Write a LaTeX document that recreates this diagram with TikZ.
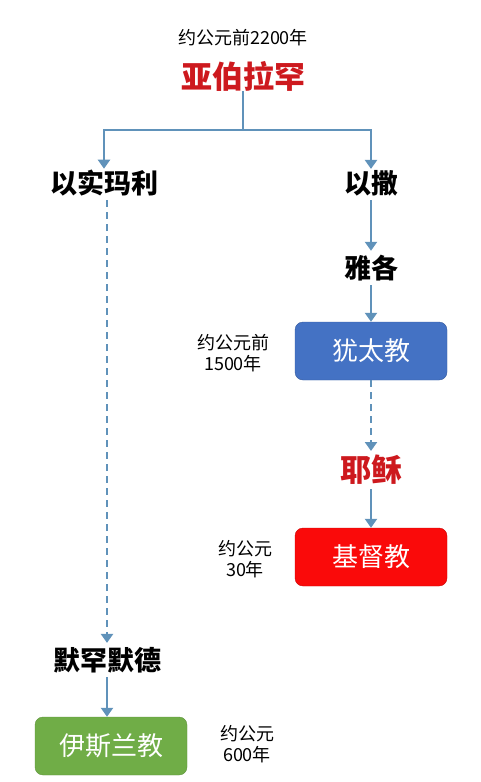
\documentclass[tikz,border=0pt]{standalone}
\usepackage{fontspec}
\setmainfont{Noto Sans CJK SC}
\usetikzlibrary{arrows.meta,positioning,shapes}
\usepackage{xcolor}
\definecolor{linkblue}{RGB}{96,146,186}
\definecolor{judaism}{RGB}{68,114,196}
\definecolor{christ}{RGB}{250,10,10}
\definecolor{islam}{RGB}{112,173,71}
\definecolor{redname}{RGB}{205,25,30}

\begin{document}
\begin{tikzpicture}[x=1pt,y=-1pt,
    person/.style={font=\bfseries\fontsize{27}{30}\selectfont, inner sep=4pt},
    redperson/.style={person, text=redname, font=\bfseries\fontsize{31}{34}\selectfont},
    faith/.style={rounded corners=8pt, minimum width=152pt, minimum height=58pt,
      text=white, font=\fontsize{26}{30}\selectfont, inner sep=0pt},
    era/.style={font=\fontsize{18}{21}\selectfont, align=center, inner sep=0pt},
    link/.style={draw=linkblue, line width=2.6pt,
      -{Triangle[width=12pt,length=9pt]}},
    hint/.style={link, dash pattern=on 7pt off 5pt}]
  \useasboundingbox (0,0) rectangle (481,782);

  \node[era] (e2200) at (243,38) {约公元前2200年};
  \node[redperson] (abraham) at (243,76) {亚伯拉罕};
  \node[person] (ishmael) at (104,183) {以实玛利};
  \node[person] (isaac) at (371,183) {以撒};
  \node[person] (jacob) at (371,268) {雅各};
  \node[faith, fill=judaism, draw=judaism!80!black] (judaism) at (371,351) {犹太教};
  \node[redperson] (jesus) at (371,470) {耶稣};
  \node[faith, fill=christ, draw=christ!80!black] (christianity) at (371,557) {基督教};
  \node[person] (muhammad) at (107,660) {默罕默德};
  \node[faith, fill=islam, draw=islam!85!black] (islam) at (111,746) {伊斯兰教};

  \node[era] (e1500) at (233,353) {约公元前\\1500年};
  \node[era] (e30) at (245,559) {约公元\\30年};
  \node[era] (e600) at (247,744) {约公元\\600年};

  \coordinate (fork) at (243,130);
  \draw[link, -] ([yshift=4pt]abraham.south) -- (fork);
  \draw[link] (fork) -| ([yshift=-3pt]ishmael.north);
  \draw[link] (fork) -| ([yshift=-3pt]isaac.north);
  \draw[link] (isaac) -- (jacob);
  \draw[link] (jacob) -- (judaism);
  \draw[hint] (judaism) -- (jesus);
  \draw[link] (jesus) -- (christianity);
  \draw[hint] (ishmael.south -| muhammad) -- (muhammad);
  \draw[link] (muhammad) -- (islam.north -| muhammad);
\end{tikzpicture}
\end{document}
